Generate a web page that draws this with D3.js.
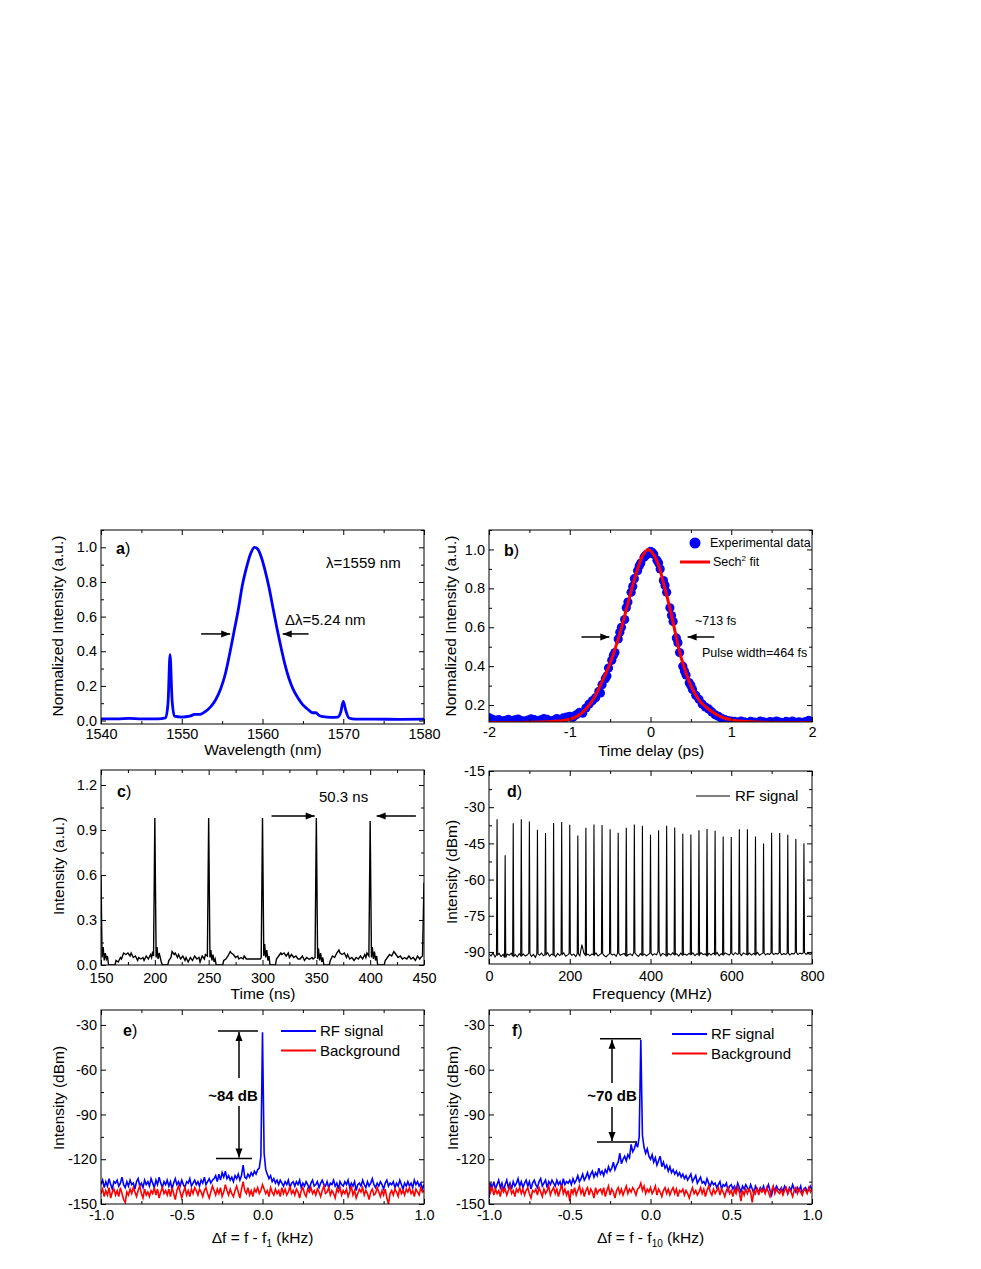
<!DOCTYPE html>
<html><head><meta charset="utf-8">
<script src="https://cdn.jsdelivr.net/npm/d3@7"></script>
<style>
body{margin:0;background:#fff;}
svg text{font-family:"Liberation Sans",Arial,sans-serif;fill:#000;}
</style></head><body>
<svg id="fig" width="981" height="1269"></svg>
<script>
// ---------- Panel a: optical spectrum ----------
const specWavelength = [1540,1542,1543.5,1545,1547,1548,1548.3,1548.55,1548.8,1549.1,1550,1551,1551.6,1552.2,1553,1553.6,1554.2,1554.8,1555.4,1556,1556.5,1557,1557.5,1558,1558.5,1559,1559.4,1559.8,1560.3,1560.8,1561.3,1561.8,1562.3,1562.8,1563.3,1563.8,1564.4,1565,1565.6,1566.2,1566.6,1567,1567.5,1568.5,1569.3,1569.7,1570,1570.3,1570.7,1571.5,1574,1577,1580];
const specIntensity = [0.010,0.010,0.012,0.010,0.010,0.015,0.10,0.38,0.12,0.025,0.020,0.025,0.035,0.035,0.055,0.08,0.12,0.18,0.27,0.40,0.52,0.64,0.78,0.88,0.96,1.00,0.99,0.95,0.87,0.77,0.65,0.53,0.42,0.32,0.24,0.18,0.13,0.09,0.065,0.045,0.045,0.03,0.022,0.018,0.02,0.05,0.11,0.06,0.015,0.008,0.008,0.007,0.008];

// ---------- Panel b: autocorrelation ----------
const acDelay = [-2.00,-1.96,-1.92,-1.88,-1.84,-1.80,-1.76,-1.72,-1.68,-1.64,-1.60,-1.56,-1.52,-1.48,-1.44,-1.40,-1.36,-1.32,-1.28,-1.24,-1.20,-1.16,-1.12,-1.08,-1.04,-1.00,-0.96,-0.92,-0.88,-0.84,-0.80,-0.76,-0.72,-0.68,-0.64,-0.60,-0.56,-0.52,-0.48,-0.44,-0.40,-0.36,-0.32,-0.28,-0.24,-0.20,-0.16,-0.12,-0.08,-0.04,0.00,0.04,0.08,0.12,0.16,0.20,0.24,0.28,0.32,0.36,0.40,0.44,0.48,0.52,0.56,0.60,0.64,0.68,0.72,0.76,0.80,0.84,0.88,0.92,0.96,1.00,1.04,1.08,1.12,1.16,1.20,1.24,1.28,1.32,1.36,1.40,1.44,1.48,1.52,1.56,1.60,1.64,1.68,1.72,1.76,1.80,1.84,1.88,1.92,1.96,2.00,
-0.62,-0.54,-0.46,-0.38,-0.30,-0.22,-0.14,-0.06,0.02,0.10,0.18,0.26,0.34,0.42,0.50];
const acMeasured = [0.135,0.128,0.122,0.125,0.118,0.121,0.126,0.119,0.124,0.128,0.120,0.117,0.123,0.129,0.125,0.119,0.124,0.130,0.126,0.118,0.122,0.131,0.127,0.134,0.138,0.142,0.137,0.150,0.162,0.158,0.185,0.205,0.222,0.238,0.270,0.305,0.335,0.390,0.430,0.470,0.540,0.600,0.640,0.730,0.780,0.850,0.890,0.930,0.960,0.975,0.990,0.975,0.945,0.900,0.840,0.780,0.700,0.630,0.545,0.470,0.400,0.355,0.315,0.280,0.250,0.230,0.205,0.190,0.180,0.165,0.150,0.142,0.132,0.125,0.120,0.118,0.116,0.112,0.117,0.114,0.110,0.116,0.113,0.111,0.117,0.114,0.110,0.115,0.112,0.118,0.113,0.110,0.116,0.112,0.117,0.111,0.114,0.110,0.115,0.121,0.113,
0.262,0.350,0.455,0.575,0.700,0.810,0.915,0.970,0.985,0.930,0.815,0.660,0.520,0.375,0.300];
const fitDelay = [-2.0,-1.6,-1.3,-1.1,-1.0,-0.9,-0.8,-0.7,-0.6,-0.5,-0.4,-0.3,-0.2,-0.1,-0.03,0.05,0.1,0.15,0.2,0.25,0.3,0.35,0.4,0.5,0.6,0.7,0.8,0.9,1.0,1.2,1.5,2.0];
const fitValue = [0.110,0.111,0.114,0.120,0.127,0.145,0.180,0.235,0.320,0.415,0.540,0.690,0.845,0.965,1.0,0.965,0.920,0.845,0.765,0.680,0.585,0.490,0.415,0.300,0.225,0.185,0.155,0.135,0.124,0.115,0.111,0.110];

// ---------- Panel c: pulse train ----------
const pulseTime = [150,151,152,153,154,155,156,157,160,163,164,166,168,169,171,173,175,177,178,180,182,184,185,187,189,190,192,194,196,197,198,198.8,200,201.2,202,203,204,205,206,207,210,212,213,215,216,218,219,221,222,224,226,228,229,231,233,235,237,239,241,242,244,246,247,248.8,250,251.2,252,253,254,255,256,257,260,263,264,266,268,270,271,273,275,277,278,280,282,283,285,298,298.8,300,301.2,302,303,304,305,306,307,310,312,313,315,317,318,320,322,324,325,327,329,331,333,335,337,339,341,343,344,346,347,348.8,350,351.2,352,353,354,355,356,357,360,362,363,365,367,369,371,372,374,376,378,379,381,383,385,387,389,391,393,395,396,397,398.8,400,401.2,402,403,404,405,406,407,410,413,414,416,418,420,422,424,426,428,430,432,434,436,438,440,442,444,446,447,448.6,450];
const pulseIntensity = [0.60,0.05,0.12,0.03,0.08,0.04,0.06,0.0,0.0,0.0,0.03,0.02,0.05,0.04,0.08,0.07,0.08,0.06,0.08,0.05,0.06,0.03,0.05,0.04,0.05,0.03,0.06,0.04,0.07,0.05,0.09,0.06,0.98,0.05,0.12,0.04,0.08,0.05,0.02,0.0,0.0,0.0,0.03,0.05,0.09,0.07,0.08,0.05,0.07,0.04,0.06,0.03,0.05,0.02,0.05,0.03,0.06,0.04,0.05,0.02,0.06,0.04,0.07,0.06,0.98,0.05,0.10,0.03,0.07,0.02,0.04,0.0,0.0,0.0,0.03,0.04,0.06,0.09,0.08,0.07,0.05,0.06,0.04,0.05,0.04,0.06,0.04,0.04,0.05,0.98,0.06,0.14,0.05,0.10,0.03,0.06,0.0,0.0,0.0,0.04,0.06,0.08,0.07,0.08,0.06,0.08,0.05,0.07,0.05,0.06,0.04,0.04,0.06,0.03,0.05,0.04,0.04,0.05,0.04,0.05,0.98,0.04,0.11,0.03,0.08,0.02,0.05,0.0,0.0,0.0,0.03,0.06,0.05,0.08,0.10,0.08,0.07,0.08,0.05,0.07,0.04,0.05,0.03,0.05,0.04,0.06,0.04,0.07,0.05,0.08,0.06,0.96,0.05,0.12,0.04,0.09,0.03,0.06,0.0,0.0,0.0,0.03,0.05,0.07,0.06,0.09,0.07,0.05,0.06,0.04,0.05,0.04,0.06,0.04,0.05,0.03,0.06,0.04,0.05,0.06,0.55];

// ---------- Panel d: RF spectrum (wide span) ----------
const rfPeakFreq = [20,40,60,80,100,120,140,160,180,200,220,240,260,280,300,320,340,360,380,400,420,440,460,480,500,520,540,560,580,600,620,640,660,680,700,720,740,760,780];
const rfPeakLevel = [-35.0,-49.9,-36.7,-35.0,-35.9,-39.4,-40.7,-36.6,-36.1,-37.3,-41.7,-38.5,-37.2,-37.4,-39.1,-40.6,-38.5,-37.2,-37.7,-41.4,-39.6,-37.7,-38.4,-41.0,-41.3,-39.6,-39.0,-39.8,-42.2,-42.4,-39.1,-39.1,-42.1,-45.1,-40.6,-40.7,-41.4,-43.2,-45.0];
const rfNoiseFreq = [0,5,10,15,20,25,30,35,40,45,50,55,60,65,70,75,80,85,90,95,100,105,110,115,120,125,130,135,140,145,150,155,160,165,170,175,180,185,190,195,200,205,210,215,220,225,230,235,240,245,250,255,260,265,270,275,280,285,290,295,300,305,310,315,320,325,330,335,340,345,350,355,360,365,370,375,380,385,390,395,400,405,410,415,420,425,430,435,440,445,450,455,460,465,470,475,480,485,490,495,500,505,510,515,520,525,530,535,540,545,550,555,560,565,570,575,580,585,590,595,600,605,610,615,620,625,630,635,640,645,650,655,660,665,670,675,680,685,690,695,700,705,710,715,720,725,730,735,740,745,750,755,760,765,770,775,780,785,790,795,800];
const rfNoiseLevel = [-90.8,-91.6,-90.4,-92.1,-91.2,-90.6,-91.9,-91.0,-92.3,-90.9,
-91.4,-90.5,-91.8,-91.1,-92.0,-90.7,-91.5,-90.9,-91.7,-91.2,
-90.6,-91.9,-91.0,-92.2,-90.8,-91.4,-90.5,-91.6,-91.1,-90.3,
-91.7,-90.9,-91.3,-92.0,-90.6,-91.5,-91.0,-90.4,-91.8,-91.2,
-90.7,-91.4,-90.9,-91.9,-90.8,-91.6,-87.0,-90.5,-91.3,-90.9,
-91.6,-90.8,-91.2,-90.4,-91.7,-91.0,-90.6,-91.5,-92.0,-91.1,
-90.7,-91.3,-90.9,-91.8,-90.5,-91.4,-91.0,-90.6,-91.7,-91.2,
-90.8,-91.5,-90.4,-91.1,-91.9,-90.7,-91.3,-90.9,-91.6,-91.0,
-90.5,-91.4,-90.8,-91.2,-89.9,-91.6,-90.6,-91.0,-91.5,-90.7,
-91.3,-90.4,-91.1,-90.8,-91.7,-90.5,-91.2,-90.9,-91.4,-90.6,
-91.0,-90.4,-91.5,-90.7,-91.2,-90.3,-91.1,-90.8,-91.4,-90.6,
-91.3,-90.5,-91.0,-90.2,-91.6,-90.7,-91.1,-90.4,-90.9,-91.3,
-90.6,-91.2,-90.3,-91.0,-90.7,-91.5,-90.4,-90.9,-91.1,-90.5,
-91.3,-90.6,-91.0,-90.2,-91.4,-90.8,-90.5,-91.2,-90.7,-91.0,
-90.4,-91.1,-90.6,-90.9,-90.3,-91.2,-90.7,-91.0,-90.5,-91.3,
-90.6,-90.9,-90.2,-91.1,-90.5,-90.8,-90.3,-91.0,-90.6,-90.9,
-90.7];

// ---------- Panels e, f: RF spectra (narrow span) ----------
const offsetKHz = [-1,-0.99,-0.98,-0.97,-0.96,-0.95,-0.94,-0.93,-0.92,-0.91,-0.9,-0.89,-0.88,-0.87,-0.86,-0.85,-0.84,-0.83,-0.82,-0.81,-0.8,-0.79,-0.78,-0.77,-0.76,-0.75,-0.74,-0.73,-0.72,-0.71,-0.7,-0.69,-0.68,-0.67,-0.66,-0.65,-0.64,-0.63,-0.62,-0.61,-0.6,-0.59,-0.58,-0.57,-0.56,-0.55,-0.54,-0.53,-0.52,-0.51,-0.5,-0.49,-0.48,-0.47,-0.46,-0.45,-0.44,-0.43,-0.42,-0.41,-0.4,-0.39,-0.38,-0.37,-0.36,-0.35,-0.34,-0.33,-0.32,-0.31,-0.3,-0.29,-0.28,-0.27,-0.26,-0.25,-0.24,-0.23,-0.22,-0.21,-0.2,-0.19,-0.18,-0.17,-0.16,-0.15,-0.14,-0.13,-0.12,-0.11,-0.1,-0.09,-0.08,-0.07,-0.06,-0.05,-0.04,-0.03,-0.02,-0.01,0,0.01,0.02,0.03,0.04,0.05,0.06,0.07,0.08,0.09,0.1,0.11,0.12,0.13,0.14,0.15,0.16,0.17,0.18,0.19,0.2,0.21,0.22,0.23,0.24,0.25,0.26,0.27,0.28,0.29,0.3,0.31,0.32,0.33,0.34,0.35,0.36,0.37,0.38,0.39,0.4,0.41,0.42,0.43,0.44,0.45,0.46,0.47,0.48,0.49,0.5,0.51,0.52,0.53,0.54,0.55,0.56,0.57,0.58,0.59,0.6,0.61,0.62,0.63,0.64,0.65,0.66,0.67,0.68,0.69,0.7,0.71,0.72,0.73,0.74,0.75,0.76,0.77,0.78,0.79,0.8,0.81,0.82,0.83,0.84,0.85,0.86,0.87,0.88,0.89,0.9,0.91,0.92,0.93,0.94,0.95,0.96,0.97,0.98,0.99,1];
const signalE = [-137,-134,-139,-135,-138,-133,-137,-140,-135,-136,
-134,-138,-136,-132,-137,-139,-135,-138,-134,-137,
-136,-140,-135,-133,-138,-136,-139,-134,-137,-135,
-138,-133,-136,-139,-134,-137,-132,-136,-139,-135,
-137,-134,-138,-135,-140,-136,-133,-137,-135,-138,
-134,-137,-139,-135,-136,-133,-138,-136,-134,-137,
-135,-138,-134,-136,-132,-137,-135,-133,-136,-134,
-133,-131,-135,-130,-134,-129,-132,-128,-133,-131,
-134,-132,-135,-131,-133,-130,-134,-131,-124,-132,
-133,-130,-132,-129,-131,-128,-130,-127,-126,-118,
-35,-116,-127,-130,-133,-131,-135,-133,-136,-134,
-137,-134,-136,-138,-135,-137,-134,-139,-136,-135,
-138,-135,-137,-134,-139,-136,-138,-135,-137,-140,
-136,-134,-138,-137,-135,-139,-136,-134,-137,-138,
-135,-139,-136,-137,-134,-138,-136,-140,-135,-137,
-138,-135,-137,-134,-139,-136,-138,-135,-141,-137,
-136,-138,-134,-137,-139,-135,-138,-136,-133,-137,
-139,-136,-138,-135,-137,-140,-136,-134,-138,-136,
-137,-135,-139,-136,-138,-134,-137,-140,-136,-138,
-135,-138,-136,-139,-134,-137,-135,-138,-136,-140,
-137];
const backgroundE = [-143,-140,-145,-141,-144,-139,-146,-142,-140,-144,
-141,-145,-139,-143,-147,-149,-142,-144,-140,-143,
-139,-142,-145,-141,-138,-143,-146,-140,-144,-142,
-145,-141,-143,-139,-144,-140,-146,-142,-139,-143,
-141,-144,-140,-145,-139,-143,-147,-141,-138,-142,
-146,-142,-139,-144,-141,-145,-140,-143,-139,-141,
-144,-140,-142,-145,-141,-139,-143,-146,-142,-138,
-141,-144,-140,-143,-139,-145,-142,-137,-141,-144,
-140,-143,-145,-141,-138,-142,-146,-140,-135,-141,
-143,-139,-144,-141,-145,-140,-142,-139,-143,-141,
-137,-140,-143,-141,-145,-139,-142,-144,-140,-143,
-141,-145,-139,-143,-140,-144,-142,-138,-143,-141,
-144,-140,-142,-146,-141,-139,-143,-145,-140,-142,
-139,-143,-141,-144,-140,-142,-145,-141,-138,-143,
-142,-139,-144,-141,-143,-146,-140,-142,-139,-144,
-141,-143,-140,-145,-142,-138,-144,-141,-146,-143,
-140,-142,-139,-144,-141,-143,-147,-142,-140,-144,
-143,-139,-142,-145,-141,-144,-140,-146,-150,-143,
-141,-144,-140,-142,-145,-139,-143,-141,-144,-140,
-142,-139,-143,-141,-145,-140,-142,-144,-139,-142,
-141];
const signalF = [-146,-136,-139,-135,-140,-137,-134,-139,-136,-141,
-137,-134,-139,-136,-140,-135,-138,-136,-133,-138,
-135,-139,-136,-134,-138,-135,-140,-136,-134,-137,
-139,-135,-133,-138,-136,-134,-139,-135,-137,-134,
-136,-138,-134,-137,-135,-139,-133,-137,-135,-136,
-134,-137,-133,-136,-134,-131,-135,-133,-130,-134,
-132,-129,-133,-130,-128,-132,-129,-131,-126,-130,
-128,-131,-127,-129,-125,-128,-126,-122,-127,-124,
-122,-116,-123,-120,-118,-121,-117,-119,-110,-115,
-113,-109,-112,-105,-40,-104,-112,-116,-113,-118,
-120,-117,-122,-119,-124,-121,-118,-125,-122,-126,
-124,-128,-125,-129,-127,-130,-128,-131,-129,-132,
-130,-133,-131,-134,-132,-130,-135,-133,-131,-136,
-134,-132,-136,-135,-137,-133,-136,-138,-135,-137,
-136,-139,-137,-135,-140,-137,-138,-136,-141,-138,
-137,-140,-138,-141,-136,-139,-142,-138,-140,-137,
-139,-141,-137,-140,-143,-138,-140,-142,-139,-141,
-138,-142,-140,-137,-141,-144,-139,-141,-138,-140,
-141,-139,-142,-138,-140,-143,-139,-141,-137,-140,
-142,-139,-141,-138,-143,-140,-139,-142,-140,-138,
-141];
const backgroundF = [-136,-142,-139,-144,-140,-143,-141,-145,-139,-142,
-140,-144,-141,-138,-143,-141,-145,-140,-142,-139,
-143,-140,-144,-141,-139,-143,-146,-141,-142,-140,
-144,-139,-142,-145,-140,-143,-141,-138,-144,-141,
-139,-143,-140,-145,-141,-137,-143,-140,-144,-141,
-148,-140,-143,-139,-144,-141,-138,-143,-140,-145,
-141,-139,-144,-140,-142,-146,-139,-143,-141,-140,
-143,-139,-145,-141,-138,-144,-140,-142,-146,-141,
-139,-143,-140,-144,-141,-138,-143,-140,-142,-139,
-141,-144,-140,-139,-136,-141,-138,-143,-140,-142,
-139,-143,-141,-138,-144,-140,-142,-145,-141,-139,
-143,-140,-144,-141,-139,-143,-140,-145,-141,-142,
-140,-144,-141,-143,-146,-142,-139,-143,-141,-144,
-142,-139,-143,-140,-145,-141,-138,-142,-144,-140,
-143,-141,-139,-144,-140,-142,-145,-141,-139,-143,
-141,-145,-140,-143,-139,-142,-148,-141,-144,-140,
-143,-140,-142,-149,-141,-143,-139,-144,-140,-142,
-140,-143,-139,-142,-145,-141,-138,-143,-140,-142,
-143,-140,-144,-141,-139,-143,-140,-142,-145,-141,
-139,-143,-140,-142,-144,-140,-141,-143,-139,-142,
-140];

// ---------- Drawing ----------
const svg = d3.select("#fig");
const defs = svg.append("defs");
const TICK_FS = 14.5, TITLE_FS = 15.5;

function panel(cfg) {
  const x = d3.scaleLinear().domain(cfg.xDomain).range([cfg.x0, cfg.x1]);
  const y = d3.scaleLinear().domain(cfg.yDomain).range([cfg.y1, cfg.y0]);
  const g = svg.append("g");
  defs.append("clipPath").attr("id", "clip" + cfg.id)
    .append("rect").attr("x", cfg.x0).attr("y", cfg.y0)
    .attr("width", cfg.x1 - cfg.x0).attr("height", cfg.y1 - cfg.y0);
  const plot = g.append("g").attr("clip-path", `url(#clip${cfg.id})`);
  const axes = g.append("g");
  const mk = (axis, tr) => {
    const a = axes.append("g").attr("transform", tr).call(axis);
    a.select(".domain").remove();
    a.selectAll("line").attr("stroke", "#000").attr("stroke-width", 1);
    a.selectAll("text").attr("font-size", TICK_FS).attr("fill", "#000")
      .style("font-family", '"Liberation Sans",Arial,sans-serif');
    return a;
  };
  mk(d3.axisBottom(x).tickValues(cfg.xTicks).tickSize(-5).tickPadding(cfg.xPad || 5).tickFormat(cfg.xFmt), `translate(0,${cfg.y1})`);
  mk(d3.axisTop(x).tickValues(cfg.xTicks).tickSize(-5).tickFormat(""), `translate(0,${cfg.y0})`);
  mk(d3.axisLeft(y).tickValues(cfg.yTicks).tickSize(-5).tickPadding(4).tickFormat(cfg.yFmt), `translate(${cfg.x0},0)`);
  mk(d3.axisRight(y).tickValues(cfg.yTicks).tickSize(-5).tickFormat(""), `translate(${cfg.x1},0)`);
  mk(d3.axisBottom(x).tickValues(cfg.xMinor).tickSize(-3).tickFormat(""), `translate(0,${cfg.y1})`);
  mk(d3.axisTop(x).tickValues(cfg.xMinor).tickSize(-3).tickFormat(""), `translate(0,${cfg.y0})`);
  mk(d3.axisLeft(y).tickValues(cfg.yMinor).tickSize(-3).tickFormat(""), `translate(${cfg.x0},0)`);
  mk(d3.axisRight(y).tickValues(cfg.yMinor).tickSize(-3).tickFormat(""), `translate(${cfg.x1},0)`);
  g.append("rect").attr("x", cfg.x0).attr("y", cfg.y0)
    .attr("width", cfg.x1 - cfg.x0).attr("height", cfg.y1 - cfg.y0)
    .attr("fill", "none").attr("stroke", "#000").attr("stroke-width", 1);
  const lab = g.append("text").attr("x", cfg.lx).attr("y", cfg.ly).attr("font-size", 16);
  lab.append("tspan").attr("font-weight", "bold").text(cfg.letter);
  lab.append("tspan").text(")");
  g.append("text").attr("transform", `translate(${cfg.ytx},${cfg.yty}) rotate(-90)`)
    .attr("text-anchor", "middle").attr("font-size", TITLE_FS).text(cfg.yTitle);
  return {x, y, g, plot};
}

function arrow(g, x1, y1, x2, y2, color) {
  color = color || "#000";
  g.append("line").attr("x1", x1).attr("y1", y1).attr("x2", x2).attr("y2", y2)
    .attr("stroke", color).attr("stroke-width", 1.5);
  const ang = Math.atan2(y2 - y1, x2 - x1);
  const L = 9, W = 3.5;
  const bx = x2 - L * Math.cos(ang), by = y2 - L * Math.sin(ang);
  const px = -Math.sin(ang) * W, py = Math.cos(ang) * W;
  g.append("path").attr("d", `M${x2},${y2}L${bx + px},${by + py}L${bx - px},${by - py}Z`).attr("fill", color);
}

const f1 = v => v.toFixed(1);
const f0 = v => String(v);

// ===== Panel a =====
{
  const p = panel({id: "a", x0: 101, x1: 424, y0: 530, y1: 724,
    xDomain: [1540, 1580], yDomain: [-0.02, 1.1],
    xTicks: [1540, 1550, 1560, 1570, 1580], xMinor: [1545, 1555, 1565, 1575],
    yTicks: [0, 0.2, 0.4, 0.6, 0.8, 1.0], yMinor: [0.1, 0.3, 0.5, 0.7, 0.9, 1.1],
    xFmt: f0, yFmt: f1, letter: "a", lx: 116, ly: 554,
    yTitle: "Normalized Intensity (a.u.)", ytx: 63, yty: 626});
  p.plot.append("path").datum(specWavelength.map((w, i) => [w, specIntensity[i]]))
    .attr("fill", "none").attr("stroke", "#0000ff").attr("stroke-width", 2.8)
    .attr("stroke-linejoin", "round")
    .attr("d", d3.line().x(d => p.x(d[0])).y(d => p.y(d[1])).curve(d3.curveMonotoneX));
  p.g.append("text").attr("x", 263).attr("y", 755).attr("text-anchor", "middle").attr("font-size", TITLE_FS).text("Wavelength (nm)");
  p.g.append("text").attr("x", 326).attr("y", 568).attr("font-size", 15).text("λ=1559 nm");
  p.g.append("text").attr("x", 285).attr("y", 625).attr("font-size", 15).text("Δλ=5.24 nm");
  arrow(p.g, p.x(1552.4), p.y(0.5), p.x(1556.0), p.y(0.5));
  arrow(p.g, p.x(1565.7), p.y(0.5), p.x(1562.5), p.y(0.5));
}

// ===== Panel b =====
{
  const p = panel({id: "b", x0: 489, x1: 812, y0: 530, y1: 722,
    xDomain: [-2, 2], yDomain: [0.113, 1.1],
    xTicks: [-2, -1, 0, 1, 2], xMinor: [-1.5, -0.5, 0.5, 1.5],
    yTicks: [0.2, 0.4, 0.6, 0.8, 1.0], yMinor: [0.3, 0.5, 0.7, 0.9, 1.1],
    xFmt: f0, yFmt: f1, letter: "b", lx: 504, ly: 556,
    yTitle: "Normalized Intensity (a.u.)", ytx: 456, yty: 626});
  p.plot.selectAll("circle").data(acDelay.map((t, i) => [t, acMeasured[i]])).join("circle")
    .attr("cx", d => p.x(d[0])).attr("cy", d => p.y(d[1])).attr("r", 4.6).attr("fill", "#0000ff");
  p.plot.append("path").datum(fitDelay.map((t, i) => [t, fitValue[i]]))
    .attr("fill", "none").attr("stroke", "#ff0000").attr("stroke-width", 3)
    .attr("d", d3.line().x(d => p.x(d[0])).y(d => p.y(d[1])).curve(d3.curveMonotoneX));
  p.g.append("text").attr("x", 651).attr("y", 756).attr("text-anchor", "middle").attr("font-size", TITLE_FS).text("Time delay (ps)");
  p.g.append("circle").attr("cx", 695).attr("cy", 543).attr("r", 5.5).attr("fill", "#0000ff");
  p.g.append("text").attr("x", 710).attr("y", 547).attr("font-size", 12.5).text("Experimental data");
  p.g.append("line").attr("x1", 680).attr("x2", 710).attr("y1", 562).attr("y2", 562).attr("stroke", "#ff0000").attr("stroke-width", 3);
  const st = p.g.append("text").attr("x", 713).attr("y", 566).attr("font-size", 12.5);
  st.append("tspan").text("Sech");
  st.append("tspan").attr("dy", -5).attr("font-size", 8).text("2");
  st.append("tspan").attr("dy", 5).text(" fit");
  p.g.append("text").attr("x", 695).attr("y", 625).attr("font-size", 12.5).text("~713 fs");
  p.g.append("text").attr("x", 702).attr("y", 657).attr("font-size", 12.5).text("Pulse width=464 fs");
  arrow(p.g, p.x(-0.855), p.y(0.55), p.x(-0.51), p.y(0.55));
  arrow(p.g, p.x(0.79), p.y(0.55), p.x(0.46), p.y(0.55));
}

// ===== Panel c =====
{
  const p = panel({id: "c", x0: 101, x1: 424, y0: 770, y1: 965,
    xDomain: [150, 450], yDomain: [0, 1.3],
    xTicks: [150, 200, 250, 300, 350, 400, 450], xMinor: [175, 225, 275, 325, 375, 425],
    yTicks: [0, 0.3, 0.6, 0.9, 1.2], yMinor: [0.15, 0.45, 0.75, 1.05],
    xFmt: f0, yFmt: f1, letter: "c", lx: 117, ly: 797, xPad: 8,
    yTitle: "Intensity (a.u.)", ytx: 64, yty: 866});
  p.plot.append("path").datum(pulseTime.map((t, i) => [t, pulseIntensity[i]]))
    .attr("fill", "none").attr("stroke", "#000").attr("stroke-width", 1.4)
    .attr("d", d3.line().x(d => p.x(d[0])).y(d => p.y(d[1])));
  p.g.append("text").attr("x", 263).attr("y", 999).attr("text-anchor", "middle").attr("font-size", TITLE_FS).text("Time (ns)");
  p.g.append("text").attr("x", 319).attr("y", 802).attr("font-size", 15).text("50.3 ns");
  arrow(p.g, p.x(308.4), p.y(0.993), p.x(348.5), p.y(0.993));
  arrow(p.g, p.x(442.5), p.y(0.993), p.x(406), p.y(0.993));
}

// ===== Panel d =====
{
  const p = panel({id: "d", x0: 489, x1: 812, y0: 771, y1: 964,
    xDomain: [0, 800], yDomain: [-95, -15],
    xTicks: [0, 200, 400, 600, 800], xMinor: [100, 300, 500, 700],
    yTicks: [-90, -75, -60, -45, -30, -15], yMinor: [-82.5, -67.5, -52.5, -37.5, -22.5],
    xFmt: f0, yFmt: f0, letter: "d", lx: 507, ly: 797, xPad: 7,
    yTitle: "Intensity (dBm)", ytx: 457, yty: 872});
  const rfLine = [];
  rfNoiseFreq.forEach((f, i) => {
    if (!rfPeakFreq.some(q => Math.abs(q - f) < 2)) rfLine.push([f, rfNoiseLevel[i]]);
  });
  rfPeakFreq.forEach((q, i) => {
    const b = rfNoiseLevel[rfNoiseFreq.indexOf(q)];
    rfLine.push([q - 1.5, b], [q, rfPeakLevel[i]], [q + 1.5, b]);
  });
  rfLine.sort((a, b) => a[0] - b[0]);
  p.plot.append("path").datum(rfLine)
    .attr("fill", "none").attr("stroke", "#000").attr("stroke-width", 1.1)
    .attr("d", d3.line().x(d => p.x(d[0])).y(d => p.y(d[1])));
  p.g.append("text").attr("x", 652).attr("y", 999).attr("text-anchor", "middle").attr("font-size", TITLE_FS).text("Frequency (MHz)");
  p.g.append("line").attr("x1", 696).attr("x2", 730).attr("y1", 796).attr("y2", 796).attr("stroke", "#000").attr("stroke-width", 1);
  p.g.append("text").attr("x", 735).attr("y", 801).attr("font-size", 15).text("RF signal");
}

// ===== Panels e, f =====
function narrowPanel(o) {
  const p = panel({id: o.id, x0: o.x0, x1: o.x1, y0: 1010, y1: 1204,
    xDomain: [-1, 1], yDomain: [-150, -20],
    xTicks: [-1, -0.5, 0, 0.5, 1], xMinor: [-0.75, -0.25, 0.25, 0.75],
    yTicks: [-150, -120, -90, -60, -30], yMinor: [-135, -105, -75, -45],
    xFmt: f1, yFmt: f0, letter: o.id, lx: o.lx, ly: 1036, xPad: 6,
    yTitle: "Intensity (dBm)", ytx: o.ytx, yty: 1098});
  const line = d3.line().x(d => p.x(d[0])).y(d => p.y(d[1]));
  p.plot.append("path").datum(offsetKHz.map((k, i) => [k, o.sig[i]]))
    .attr("fill", "none").attr("stroke", "#0000ff").attr("stroke-width", 1.6).attr("d", line);
  p.plot.append("path").datum(offsetKHz.map((k, i) => [k, o.bg[i]]))
    .attr("fill", "none").attr("stroke", "#ff0000").attr("stroke-width", 1.6).attr("d", line);
  const t = p.g.append("text").attr("x", (o.x0 + o.x1) / 2).attr("y", 1243).attr("text-anchor", "middle").attr("font-size", TITLE_FS);
  t.append("tspan").text("Δf = f - f");
  t.append("tspan").attr("dy", 4).attr("font-size", 10).text(o.sub);
  t.append("tspan").attr("dy", -4).text(" (kHz)");
  p.g.append("line").attr("x1", o.legX).attr("x2", o.legX + 35).attr("y1", o.legY).attr("y2", o.legY).attr("stroke", "#0000ff").attr("stroke-width", 1.8);
  p.g.append("text").attr("x", o.legX + 39).attr("y", o.legY + 5).attr("font-size", 15).text("RF signal");
  p.g.append("line").attr("x1", o.legX).attr("x2", o.legX + 35).attr("y1", o.legY + 19.5).attr("y2", o.legY + 19.5).attr("stroke", "#ff0000").attr("stroke-width", 1.8);
  p.g.append("text").attr("x", o.legX + 39).attr("y", o.legY + 24.5).attr("font-size", 15).text("Background");
  const yt = p.y(o.top), yb = p.y(o.bot);
  p.g.append("line").attr("x1", o.topX[0]).attr("x2", o.topX[1]).attr("y1", yt).attr("y2", yt).attr("stroke", "#000").attr("stroke-width", 1.5);
  p.g.append("line").attr("x1", o.botX[0]).attr("x2", o.botX[1]).attr("y1", yb).attr("y2", yb).attr("stroke", "#000").attr("stroke-width", 1.5);
  arrow(p.g, o.ax, o.gap[0], o.ax, yt + 1);
  arrow(p.g, o.ax, o.gap[1], o.ax, yb - 1);
  p.g.append("text").attr("x", o.tx).attr("y", 1101).attr("text-anchor", "middle").attr("font-size", 15).attr("font-weight", "bold").text(o.label);
}
narrowPanel({id: "e", x0: 101, x1: 424, lx: 123, ytx: 64, sig: signalE, bg: backgroundE, sub: "1",
  legX: 281, legY: 1031, top: -34, bot: -119.5, topX: [218, 258], botX: [216, 252],
  ax: 239, gap: [1078, 1106], tx: 233, label: "~84 dB"});
narrowPanel({id: "f", x0: 489, x1: 812, lx: 512, ytx: 458, sig: signalF, bg: backgroundF, sub: "10",
  legX: 672, legY: 1034, top: -39.2, bot: -108.5, topX: [600, 641], botX: [597, 637],
  ax: 612, gap: [1083, 1107], tx: 612, label: "~70 dB"});
</script>
</body></html>
